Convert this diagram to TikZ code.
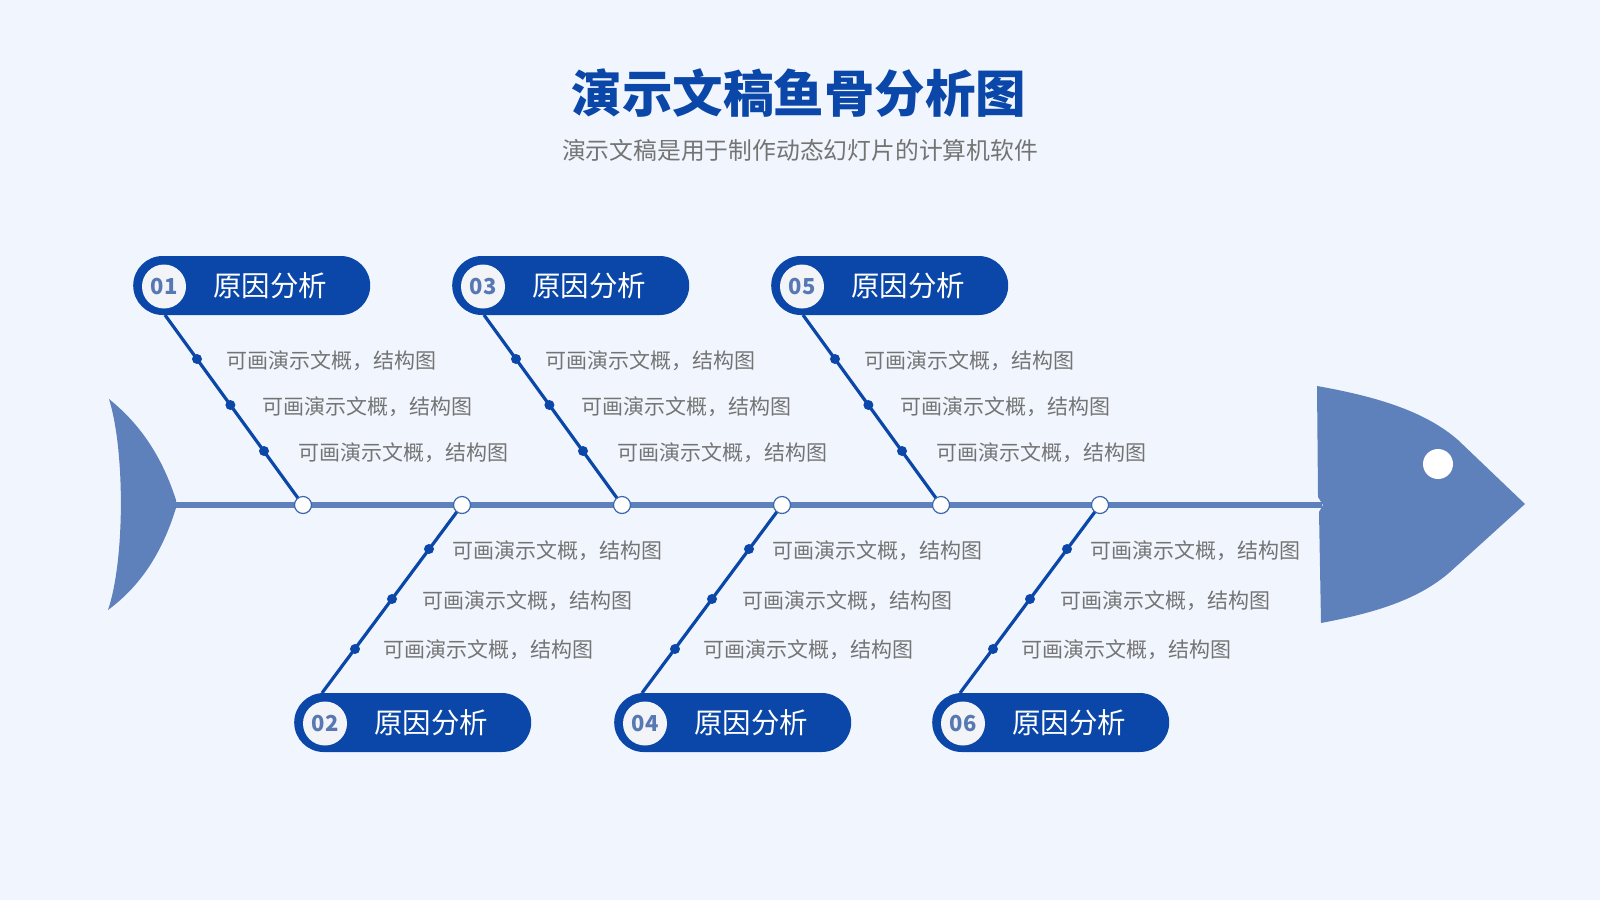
\documentclass[tikz,border=0pt]{standalone}
\usepackage{fontspec}
\setmainfont{Noto Sans CJK SC}
\pgfdeclarelayer{back}
\pgfdeclarelayer{bg}
\pgfsetlayers{back,bg,main}
\definecolor{bgc}{HTML}{F1F6FE}
\definecolor{fish}{HTML}{5E81BC}
\definecolor{deep}{HTML}{0A47A8}
\definecolor{gtext}{HTML}{747474}
\definecolor{numfill}{HTML}{F2F4F8}
\definecolor{numtext}{HTML}{5878B4}
\definecolor{ring}{HTML}{3C67AE}
\tikzset{
  pill/.style={rectangle, rounded corners=29.5pt, fill=deep, minimum width=237pt, minimum height=59pt, inner sep=0pt, anchor=west},
  numc/.style={circle, fill=numfill, minimum size=44pt, inner sep=0pt, text=numtext, font=\fontsize{22}{24}\selectfont\bfseries},
  ptext/.style={inner sep=0pt, text=white, font=\fontsize{28.5}{32}\selectfont},
  item/.style={inner sep=0pt, anchor=west, text=gtext, font=\fontsize{21}{24}\selectfont},
  bone/.style={draw=deep, line width=3.2pt},
  bdot/.style={circle, fill=deep, minimum size=10pt, inner sep=0pt},
  snode/.style={circle, fill=white, draw=ring, line width=1.2pt, minimum size=17pt, inner sep=0pt},
  spine/.style={draw=fish, line width=5.5pt},
}
\begin{document}
\begin{tikzpicture}[x=1pt, y=-1pt]
\begin{pgfonlayer}{back}
\fill[bgc] (0,0) rectangle (1600,900);
\end{pgfonlayer}
\useasboundingbox (0,0) rectangle (1600,900);

% title
\node[text=deep, font=\fontsize{50.5}{56}\selectfont\bfseries] (title) at (799,93) {演示文稿鱼骨分析图};
\node[text=gtext, font=\fontsize{23.8}{28}\selectfont] (subtitle) at (800,150) {演示文稿是用于制作动态幻灯片的计算机软件};

% tail
\fill[fish] (109,399) .. controls (135,420) and (160,450) .. (176,500)
  -- (176,508) .. controls (160,560) and (135,590) .. (108,610)
  .. controls (125,560) and (125,450) .. (109,399) -- cycle;
% head
\fill[fish] (1317,386) .. controls (1385,398) and (1428,414) .. (1458,440)
  -- (1525,504) -- (1450,572) .. controls (1420,598) and (1380,612) .. (1321,623)
  -- (1319,512) -- (1323,505) -- (1318,497) -- cycle;
\node[circle, fill=white, minimum size=30pt, inner sep=0pt] (eye) at (1438,464) {};

\coordinate (tailend) at (174,505);
\coordinate (headstart) at (1322,505);
\draw[spine] (tailend) -- (headstart);

% upper bones
\foreach \x/\k in {303/01, 622/03, 941/05}{
  \coordinate (s\k) at (\x,505);
  \coordinate (b\k) at (\x-138,315);
  \begin{pgfonlayer}{bg}
    \draw[bone] (s\k) -- (b\k);
  \end{pgfonlayer}
  \node[pill] (p\k) at (\x-170,285.5) {};
  \node[numc] (n\k) at (\x-139,286.5) {\k};
  \node[ptext] (l\k) at (\x-33,286) {原因分析};
  \node[bdot] (da\k) at (\x-106,359) {};
  \node[bdot] (db\k) at (\x-72.6,405) {};
  \node[bdot] (dc\k) at (\x-39,451) {};
  \node[item] (ta\k) at (\x-77,360.5) {可画演示文概，结构图};
  \node[item] (tb\k) at (\x-41,406.5) {可画演示文概，结构图};
  \node[item] (tc\k) at (\x-5,452.5) {可画演示文概，结构图};
  \node[snode] (c\k) at (s\k) {};
}
% lower bones
\foreach \x/\k in {462/02, 782/04, 1100/06}{
  \coordinate (s\k) at (\x,505);
  \coordinate (b\k) at (\x-140,693);
  \begin{pgfonlayer}{bg}
    \draw[bone] (s\k) -- (b\k);
  \end{pgfonlayer}
  \node[pill] (p\k) at (\x-168,722.5) {};
  \node[numc] (n\k) at (\x-137,723.5) {\k};
  \node[ptext] (l\k) at (\x-31,723) {原因分析};
  \node[bdot] (da\k) at (\x-33,549) {};
  \node[bdot] (db\k) at (\x-70,599) {};
  \node[bdot] (dc\k) at (\x-107,649) {};
  \node[item] (ta\k) at (\x-10,550.5) {可画演示文概，结构图};
  \node[item] (tb\k) at (\x-40,600.5) {可画演示文概，结构图};
  \node[item] (tc\k) at (\x-79,650) {可画演示文概，结构图};
  \node[snode] (c\k) at (s\k) {};
}
\end{tikzpicture}
\end{document}
